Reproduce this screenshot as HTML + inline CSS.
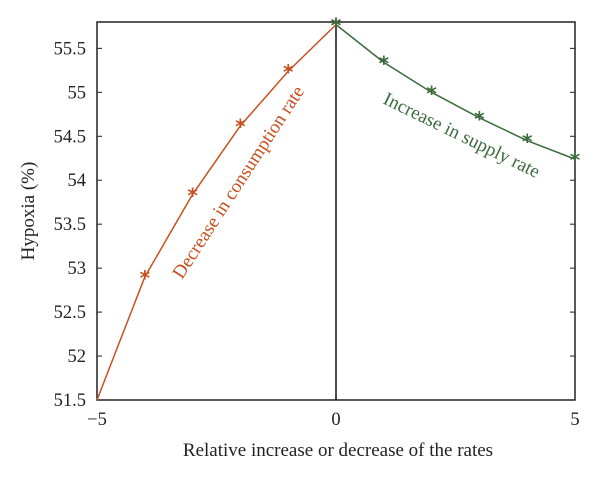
<!DOCTYPE html>
<html><head><meta charset="utf-8"><style>body{margin:0;background:#fff}svg{display:block;font-family:"Liberation Serif",serif}</style></head>
<body>
<svg width="600" height="481" viewBox="0 0 600 481">
<g id="plot"></g>
<text x="0" y="0" font-size="19" fill="#c8501e" transform="translate(182,280) rotate(-57)">Decrease in consumption rate</text>
<text x="0" y="0" font-size="19" fill="#3d6b3d" transform="translate(382,103) rotate(26)">Increase in supply rate</text>
<text x="338" y="456" text-anchor="middle" font-size="19" fill="#222">Relative increase or decrease of the rates</text>
<text transform="translate(34,211) rotate(-90)" text-anchor="middle" font-size="19" fill="#222">Hypoxia (%)</text>
</svg>
<script>
const decX=[-5,-4,-3,-2,-1,0];
const decY=[51.5,52.9,53.84,54.62,55.24,55.77];
const incX=[0,1,2,3,4,5];
const incY=[55.77,55.34,55.0,54.71,54.45,54.24];
const xTicks=[-5,0,5];
const xTickLabels=["\u22125","0","5"];
const yTicks=[51.5,52,52.5,53,53.5,54,54.5,55,55.5];
const yTickLabels=["51.5","52","52.5","53","53.5","54","54.5","55","55.5"];
const L=97,R=575,T=22,B=400,xmin=-5,xmax=5,ymin=51.5,ymax=55.8;
const sx=v=>L+(v-xmin)/(xmax-xmin)*(R-L);
const sy=v=>B-(v-ymin)/(ymax-ymin)*(B-T);
const g=document.getElementById('plot');const NS='http://www.w3.org/2000/svg';
function mk(t,a,p){const e=document.createElementNS(NS,t);for(const k in a)e.setAttribute(k,a[k]);(p||g).appendChild(e);return e;}
let e=mk('rect',{x:L,y:T,width:R-L,height:B-T,fill:'none',stroke:'#222','stroke-width':1.5});


yTicks.forEach((v,i)=>{mk('line',{x1:L,x2:L+5,y1:sy(v),y2:sy(v),stroke:'#222'});mk('line',{x1:R,x2:R-5,y1:sy(v),y2:sy(v),stroke:'#222'});
let t=mk('text',{x:L-11,y:sy(v)+6,'text-anchor':'end','font-size':18.5,fill:'#222'});t.textContent=yTickLabels[i];

});
xTicks.forEach((v,i)=>{mk('line',{x1:sx(v),x2:sx(v),y1:B,y2:B-5,stroke:'#222'});
let t=mk('text',{x:sx(v),y:B+25,'text-anchor':'middle','font-size':18.5,fill:'#222'});t.textContent=xTickLabels[i];

});
e=mk('line',{x1:sx(0),x2:sx(0),y1:B,y2:sy(decY[decY.length-1]),stroke:'#111','stroke-width':1.5});


function series(xs,ys,col,name){const p=mk('polyline',{points:xs.map((x,i)=>sx(x)+','+sy(ys[i])).join(' '),fill:'none',stroke:col,'stroke-width':1.5});


xs.forEach((x,i)=>{if(x===xmin)return;const t=mk('text',{x:sx(x),y:sy(ys[i])+8,'text-anchor':'middle','font-size':20,'font-weight':'bold',fill:col,'font-family':'DejaVu Sans'});t.textContent='*';

});}
series(decX,decY,'#c8501e','decrease-consumption');
series(incX,incY,'#3d6b3d','increase-supply');
</script>
</body></html>
